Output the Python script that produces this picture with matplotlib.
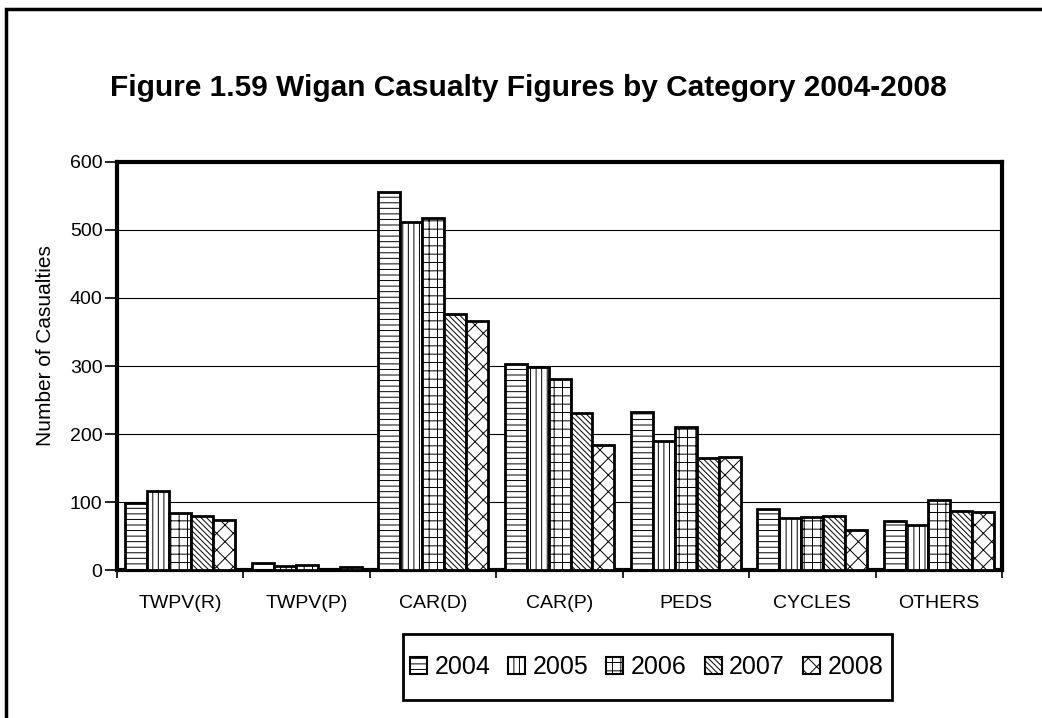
import matplotlib
matplotlib.use("Agg")
import matplotlib.pyplot as plt
import numpy as np

plt.rcParams['font.family'] = ['Liberation Sans', 'DejaVu Sans']
plt.rcParams['hatch.linewidth'] = 0.7

categories = ['TWPV(R)', 'TWPV(P)', 'CAR(D)', 'CAR(P)', 'PEDS', 'CYCLES', 'OTHERS']
years = ['2004', '2005', '2006', '2007', '2008']
values = {
    '2004': [99, 10, 556, 303, 232, 90, 72],
    '2005': [116, 6, 512, 299, 190, 76, 66],
    '2006': [84, 8, 518, 281, 210, 78, 103],
    '2007': [79, 1, 376, 231, 165, 79, 87],
    '2008': [73, 5, 366, 184, 166, 59, 85],
}
hatches = ['---', '|||', '++', '\\\\\\\\\\\\', 'xx']

fig = plt.figure(figsize=(10.42, 7.18), dpi=100)
ax = fig.add_axes([0.1123, 0.2061, 0.8493, 0.5683])

x = np.arange(len(categories))
w = 0.174
for i, yr in enumerate(years):
    ax.bar(x + (i - 2) * w, values[yr], width=w, color='white', edgecolor='black',
           linewidth=2, hatch=hatches[i], label=yr, zorder=3)

ax.set_xlim(-0.5, len(categories) - 0.5)
ax.set_ylim(0, 600)
ax.set_yticks(range(0, 601, 100))
ax.tick_params(axis='y', labelsize=14, length=9, width=1.2, direction='out', pad=1.5)
ax.yaxis.grid(True, color='black', linewidth=0.8, zorder=0)
ax.set_axisbelow(True)

# category labels sit between the boundary ticks
ax.set_xticks(np.arange(-0.5, len(categories), 1.0))
ax.set_xticklabels([])
ax.set_xticks(x, minor=True)
ax.set_xticklabels(categories, minor=True, fontsize=14)
ax.tick_params(axis='x', which='major', length=6, width=1.2, direction='out')
ax.tick_params(axis='x', which='minor', length=0, pad=18)

for s in ax.spines.values():
    s.set_linewidth(3)

ax.set_ylabel('Number of Casualties', fontsize=15)
ax.yaxis.set_label_coords(-0.070, 0.551)

fig.text(0.507, 0.878, 'Figure 1.59 Wigan Casualty Figures by Category 2004-2008',
         ha='center', va='center', fontsize=21.5, fontweight='bold')

leg = fig.legend(loc='center', bbox_to_anchor=(0.6205, 0.071), ncol=5, fontsize=18,
                 frameon=False, borderpad=0,
                 handlelength=0.68, handleheight=0.68, handletextpad=0.3,
                 columnspacing=0.72, borderaxespad=0)
for h in leg.legend_handles:
    h.set_linewidth(1.5)

# legend box
fig.patches.append(plt.Rectangle((403 / 1042, 1 - 700 / 718), 489 / 1042, 66 / 718,
                                 transform=fig.transFigure, fill=False,
                                 edgecolor='black', linewidth=2))
# outer chart border
fig.patches.append(plt.Rectangle((6 / 1042, -0.1), 1.2, 1 - 9.5 / 718 + 0.1,
                                 transform=fig.transFigure, fill=False,
                                 edgecolor='black', linewidth=2.5))

fig.savefig('out.png', dpi=100)
